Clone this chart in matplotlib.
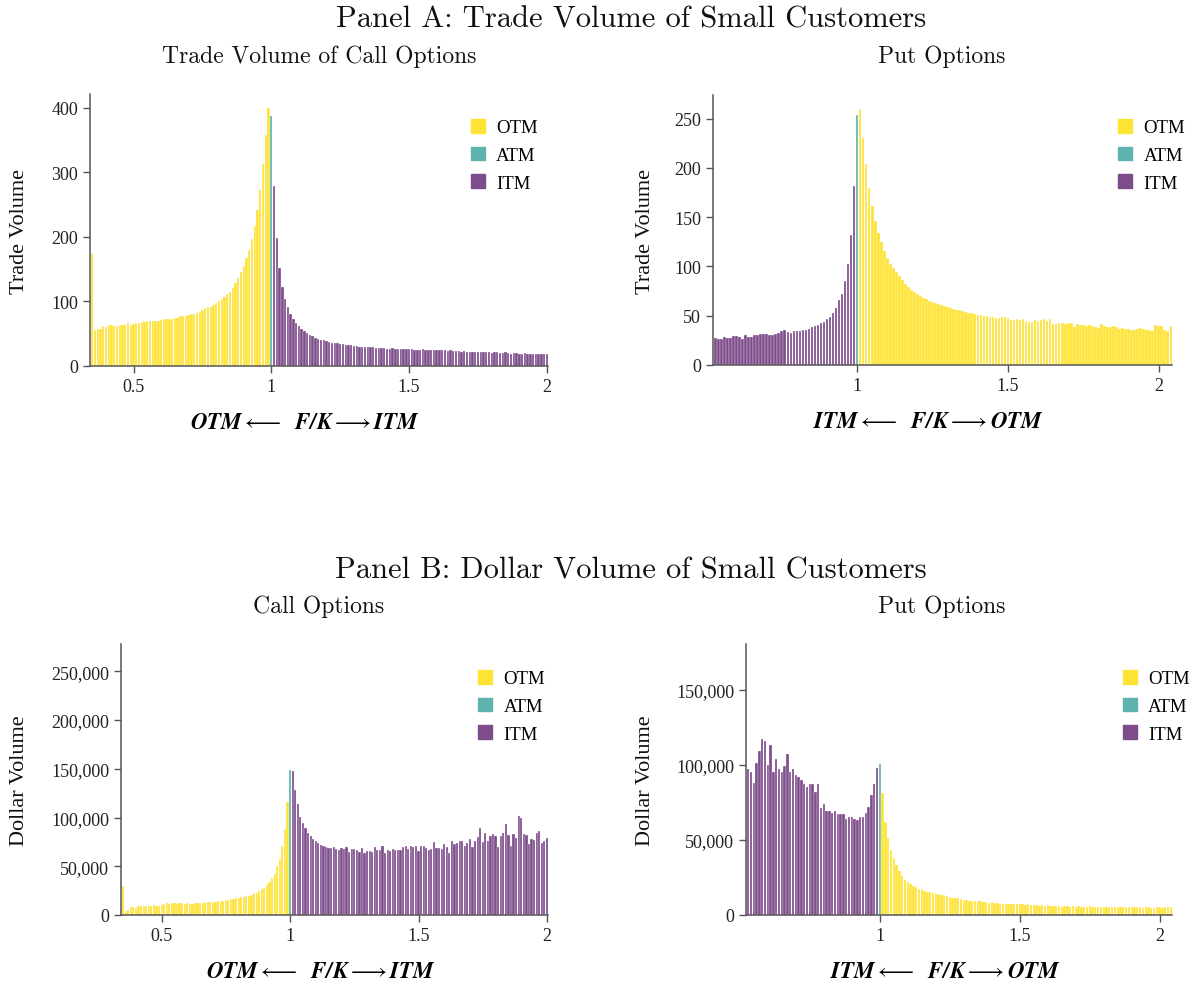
import numpy as np
import matplotlib
matplotlib.use("Agg")
from matplotlib import pyplot as plt
from matplotlib.patches import Patch
from matplotlib.ticker import FuncFormatter

plt.rcParams['font.family'] = 'Liberation Serif'
plt.rcParams['mathtext.fontset'] = 'stix'

OTM_COLOR = "#fde333"
ATM_COLOR = "#5fb3ae"
ITM_COLOR = "#7d4c8b"

# F/K bins below and above the money
call_lo = np.round(np.arange(35, 100) / 100, 2)   # 0.35 .. 0.99
put_lo = np.round(np.arange(53, 100) / 100, 2)    # 0.53 .. 0.99
call_hi = np.round(np.arange(101, 201) / 100, 2)  # 1.01 .. 2.00
put_hi = np.round(np.arange(101, 205) / 100, 2)   # 1.01 .. 2.04

# Panel A: trade volume, calls
call_tv_otm = [175,
               55, 57, 58, 62, 61, 63, 64, 62, 62, 63,
               63, 64, 67, 64, 65, 66, 67, 68, 68, 69,
               70, 70, 70, 69, 71, 72, 72, 72, 73, 74,
               75, 77, 78, 78, 79, 80, 81, 82, 84, 87,
               89, 91, 92, 94, 97, 100, 103, 107, 111, 115,
               120, 128, 136, 145, 155, 167, 180, 196, 217, 242,
               273, 313, 358, 399]
call_tv_atm = 387
call_tv_itm = [279, 198, 152, 123, 104, 91, 81, 73, 67, 62,
               57, 54, 51, 48, 46, 44, 42, 41, 40, 38,
               37, 36, 36, 35, 34, 34, 33, 32, 32, 31,
               31, 30, 30, 30, 29, 29, 29, 28, 28, 28,
               28, 27, 27, 28, 27, 27, 26, 26, 26, 26,
               26, 25, 25, 25, 26, 25, 25, 24, 24, 24,
               24, 24, 24, 23, 24, 23, 23, 23, 22, 23,
               22, 22, 22, 21, 22, 21, 21, 22, 21, 20,
               21, 21, 20, 20, 21, 20, 19, 20, 20, 19,
               19, 20, 19, 19, 18, 19, 19, 18, 18, 19]

# Panel A: trade volume, puts
put_tv_itm = [27, 26, 26, 28, 27, 27, 29, 29, 28, 26,
              30, 28, 28, 30, 30, 31, 31, 31, 30, 30,
              31, 32, 34, 36, 33, 32, 34, 35, 35, 36,
              36, 37, 39, 40, 41, 43, 44, 47, 49, 53,
              58, 66, 72, 85, 102, 132, 182]
put_tv_atm = 254
put_tv_otm = [260, 230, 204, 180, 161, 146, 134, 125, 116, 109,
              103, 98, 94, 90, 86, 82, 79, 76, 74, 72,
              70, 68, 67, 65, 64, 63, 62,
              61, 60, 59, 58, 57, 56, 56, 55, 54, 53, 53, 52, 51,
              51, 50, 50, 49, 49, 48, 48, 49, 49, 48,
              46, 46, 47, 46, 47, 45, 44, 44, 46, 45,
              46, 47, 45, 47, 42, 42, 43, 43, 42, 43,
              43, 39, 42, 41, 41, 40, 41, 40, 39, 38,
              42, 40, 39, 39, 40, 39, 37, 38, 37, 37,
              36, 36, 37, 38, 37, 36, 36, 35, 41, 40,
              40, 36, 35, 40]

# Panel B: dollar volume, calls (thousands of $)
call_dv_otm = [30,
               4.5, 5.5, 8, 8.5, 7.5, 9.5, 9.5, 9.5, 9, 9,
               9, 10, 9.5, 9.5, 10.5, 11, 12, 11.5, 12.5, 12,
               11.5, 12, 12, 11.5, 12, 11.5, 11.5, 12, 12, 12.5,
               12.5, 13, 13, 13.5, 13, 13.5, 14, 14, 14.5, 15,
               15.5, 16, 16.5, 17, 17.5, 18, 18.5, 19, 19.5, 20.5,
               22.5, 23, 25, 27, 28, 31, 33.5, 38, 42, 50,
               57.5, 71, 88, 116]
call_dv_atm = 149
call_dv_itm = [148, 128, 114, 101, 94, 89, 84, 81, 78, 76,
               73.5, 72, 70.5, 69.5, 69, 68.5, 69.5, 68, 67, 69,
               68, 69.5, 65, 68, 67.5, 67, 65, 69, 64, 65.5,
               66, 64.5, 69.5, 67, 67, 71, 64, 67, 65.5, 68,
               67, 67, 66.5, 69.5, 71, 68, 71, 69.5, 70.5, 65.5,
               70.5, 71, 69, 67, 68, 74.5, 69, 68.5, 68, 73,
               69.5, 64, 76, 73, 74, 76, 75.5, 71, 73.5, 78,
               69.5, 76, 80, 89, 75, 84, 76, 81, 83, 81,
               70, 81, 84, 93.5, 82, 70.5, 83, 79, 102, 99.5,
               83, 82.5, 73, 78, 77, 84, 86.5, 74, 76, 78.5]

# Panel B: dollar volume, puts (thousands of $)
put_dv_itm = [97, 95, 88, 101, 109, 117, 116, 100, 113, 95,
              104, 97, 95, 99, 107, 95, 97, 93, 92, 90,
              87, 85, 87, 87, 82, 87, 71, 74, 69, 69,
              68, 69, 67, 67, 67, 64, 65, 65, 64, 63,
              65, 65, 68, 72, 80, 87, 98]
put_dv_atm = 100.4
put_dv_otm = [81, 62, 51, 43.5, 38, 33, 29.5, 26, 23.5, 22,
              20.5, 19.5, 18.5, 17.5, 17, 16, 15.5, 15, 14.5, 14,
              14, 13.5, 13, 12.5, 12, 11.5, 11, 11, 10.5, 10,
              10, 9.5, 9.5, 9, 9, 9, 8.5, 8.5, 8, 8.5,
              8, 8, 7.5, 7.5, 7.5, 7.5, 7, 7.5, 7, 7,
              7, 6.5, 7, 6.5, 6.5, 6.5, 6, 6.5, 6, 6.5,
              6, 6, 6, 6, 5.5, 6, 6, 5.5, 6, 5.5,
              6, 5.5, 5.5, 5.5, 6, 5.5, 5.5, 5, 5.5, 5,
              5.5, 5, 5.5, 5, 5, 5, 5, 5.5, 5, 5,
              5, 5, 5, 4.5, 5, 5, 4.5, 4.5, 5, 5,
              4.5, 5, 5, 5.5]

W, H = 1195, 987
fig = plt.figure(figsize=(W / 100, H / 100), dpi=100)


def px_axes(left, right, top, bottom):
    return fig.add_axes([left / W, 1 - bottom / H, (right - left) / W, (bottom - top) / H])


def draw_panel(ax, lo_x, lo_vals, lo_color, atm, hi_x, hi_vals, hi_color,
               ymax, yticks, xticks, scale=1, money=False):
    kw = dict(width=0.0085, edgecolor="white", linewidth=0.2)
    ax.bar(lo_x, np.array(lo_vals) * scale, color=lo_color, **kw)
    ax.bar([1.0], [atm * scale], color=ATM_COLOR, **kw)
    ax.bar(hi_x, np.array(hi_vals) * scale, color=hi_color, **kw)
    ax.set_xlim(lo_x[0] - 0.008, hi_x[-1] + 0.004)
    ax.set_ylim(0, ymax)
    ax.set_yticks(yticks)
    ax.set_xticks(xticks)
    ax.set_xticklabels(["{:g}".format(t) for t in xticks])
    if money:
        ax.yaxis.set_major_formatter(FuncFormatter(lambda v, p: "{:,}".format(int(v))))
    for s in ["top", "right"]:
        ax.spines[s].set_visible(False)
    for s in ["left", "bottom"]:
        ax.spines[s].set_color("#555555")
        ax.spines[s].set_linewidth(1.1)
    ax.tick_params(direction="out", length=5, width=1, color="#555555",
                   labelsize=13, labelcolor="#222222")


def add_legend(ax, x, y):
    handles = [Patch(color=OTM_COLOR, label="OTM"),
               Patch(color=ATM_COLOR, label="ATM"),
               Patch(color=ITM_COLOR, label="ITM")]
    ax.legend(handles=handles, loc="upper left", bbox_to_anchor=(x / W, 1 - y / H),
              bbox_transform=fig.transFigure, frameon=False, borderpad=0,
              borderaxespad=0, handlelength=0.75, handleheight=0.75,
              handletextpad=0.6, labelspacing=0.55, fontsize=13.5)


def add_xlabel(ax, text, width_px):
    ax.text(0.5 - 14 / width_px, -57 / 272, text, transform=ax.transAxes,
            ha="center", va="center", fontsize=16.5)


call_lbl = r"$\mathbfit{OTM} \longleftarrow\ \ \mathbfit{F/K} \longrightarrow \mathbfit{ITM}$"
put_lbl = r"$\mathbfit{ITM} \longleftarrow\ \ \mathbfit{F/K} \longrightarrow \mathbfit{OTM}$"

# Panel A
ax1 = px_axes(90, 548, 95, 367)
draw_panel(ax1, call_lo, call_tv_otm, OTM_COLOR, call_tv_atm, call_hi, call_tv_itm, ITM_COLOR,
           421, [0, 100, 200, 300, 400], [0.5, 1, 1.5, 2])
add_legend(ax1, 471, 120)
add_xlabel(ax1, call_lbl, 458)

ax2 = px_axes(713, 1172, 96, 366)
draw_panel(ax2, put_lo, put_tv_itm, ITM_COLOR, put_tv_atm, put_hi, put_tv_otm, OTM_COLOR,
           274, [0, 50, 100, 150, 200, 250], [1, 1.5, 2])
add_legend(ax2, 1118, 120)
add_xlabel(ax2, put_lbl, 459)

# Panel B
ax3 = px_axes(121, 548, 645, 916)
draw_panel(ax3, call_lo, call_dv_otm, OTM_COLOR, call_dv_atm, call_hi, call_dv_itm, ITM_COLOR,
           278000, [0, 50000, 100000, 150000, 200000, 250000], [0.5, 1, 1.5, 2],
           scale=1000, money=True)
add_legend(ax3, 478, 671)
add_xlabel(ax3, call_lbl, 427)

ax4 = px_axes(746, 1172, 645, 916)
draw_panel(ax4, put_lo, put_dv_itm, ITM_COLOR, put_dv_atm, put_hi, put_dv_otm, OTM_COLOR,
           180500, [0, 50000, 100000, 150000], [1, 1.5, 2], scale=1000, money=True)
add_legend(ax4, 1123, 671)
add_xlabel(ax4, put_lbl, 426)

# titles and axis names
title_font = dict(family="cmr10", color="#111111")
fig.text(631 / W, 1 - 20 / H, "Panel A: Trade Volume of Small Customers", ha="center", va="center",
         fontsize=22, **title_font)
fig.text(319 / W, 1 - 57 / H, "Trade Volume of Call Options", ha="center", va="center",
         fontsize=17, **title_font)
fig.text(942 / W, 1 - 57 / H, "Put Options", ha="center", va="center", fontsize=17, **title_font)
fig.text(631 / W, 1 - 571 / H, "Panel B: Dollar Volume of Small Customers", ha="center", va="center",
         fontsize=22, **title_font)
fig.text(319 / W, 1 - 607 / H, "Call Options", ha="center", va="center", fontsize=17, **title_font)
fig.text(942 / W, 1 - 607 / H, "Put Options", ha="center", va="center", fontsize=17, **title_font)

for x, y, s in [(20, 231, "Trade Volume"), (645, 231, "Trade Volume"),
                (20, 781, "Dollar Volume"), (645, 781, "Dollar Volume")]:
    fig.text(x / W, 1 - y / H, s, rotation=90, ha="center", va="center", fontsize=16,
             color="#111111")

fig.savefig("out.png", dpi=100, facecolor="white")
